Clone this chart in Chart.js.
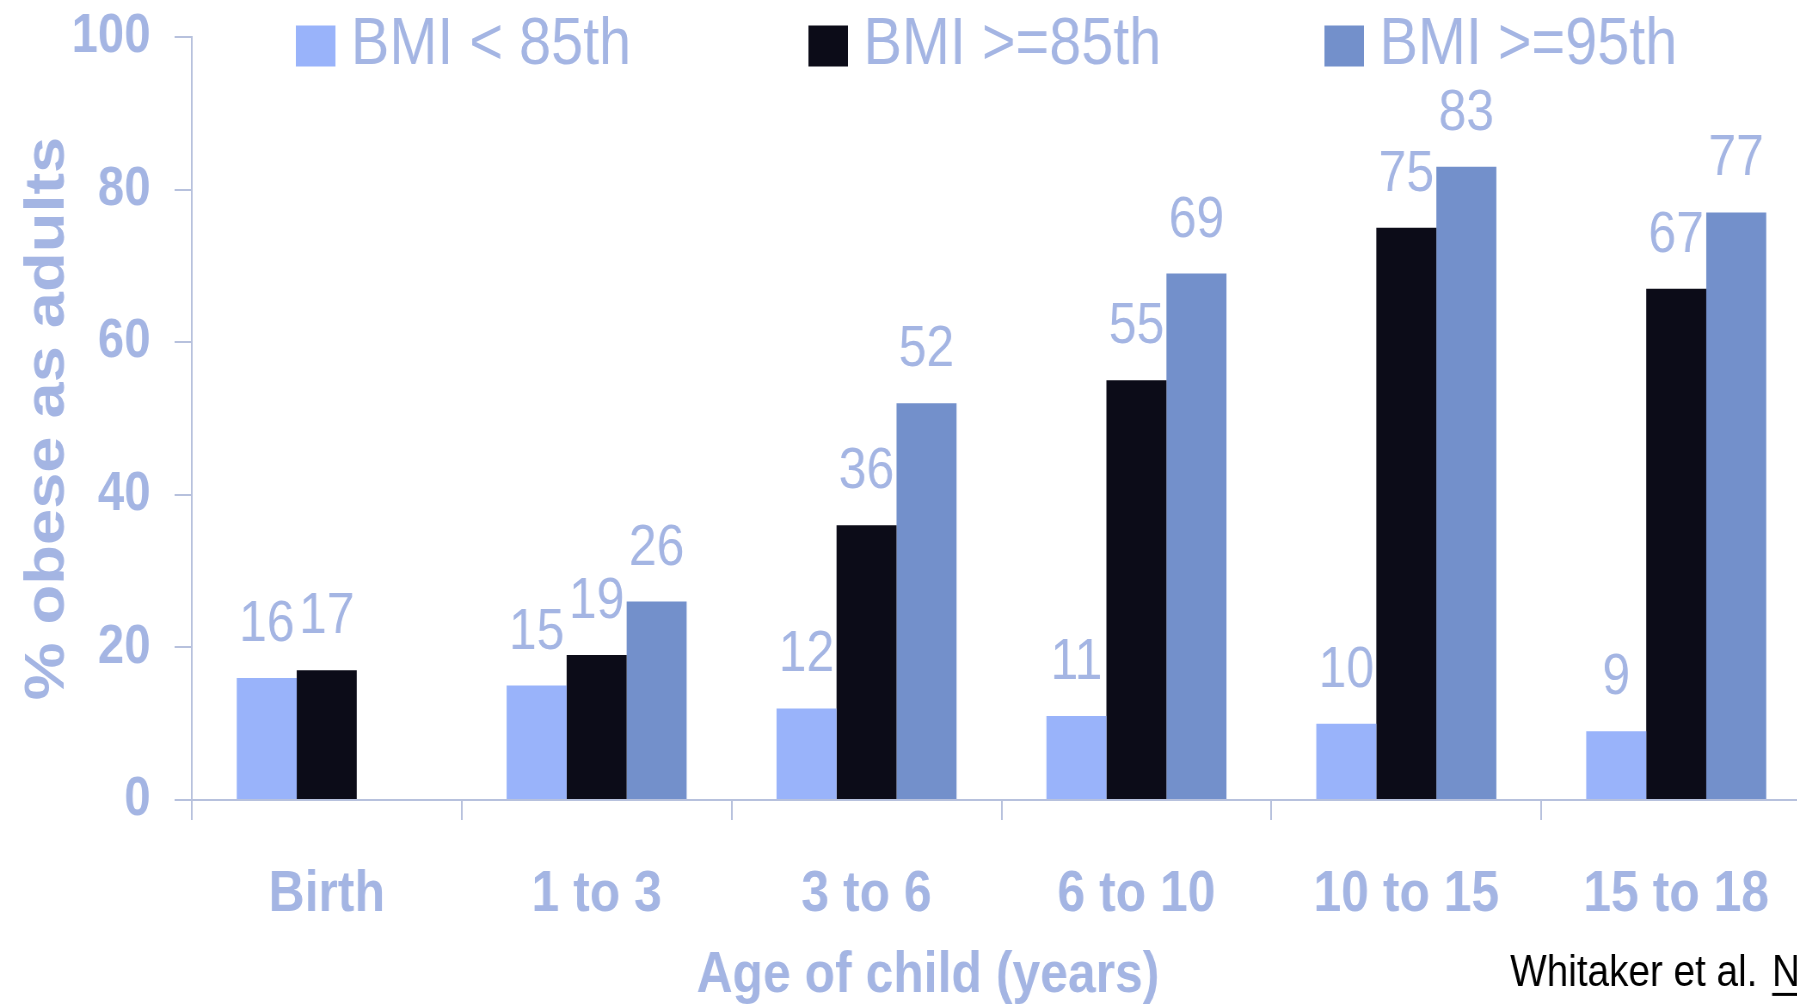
<!DOCTYPE html>
<html>
<head>
<meta charset="utf-8">
<script src="https://cdn.jsdelivr.net/npm/chart.js@4/dist/chart.umd.min.js"></script>
<style>
  html, body { margin: 0; padding: 0; background: #ffffff; overflow: hidden; width: 1797px; height: 1007px; }
  #wrap { position: absolute; left: 0; top: 0; width: 2106px; height: 1007px; transform: scaleX(0.86); transform-origin: 0 0; }
</style>
</head>
<body>
<div id="wrap"><canvas id="c"></canvas></div>
<script>
// ---- data ----
const categories = ['Birth', '1 to 3', '3 to 6', '6 to 10', '10 to 15', '15 to 18'];
const seriesNames = ['BMI < 85th', 'BMI >=85th', 'BMI >=95th'];
const bmiBelow85 = [16, 15, 12, 11, 10, 9];
const bmiAtLeast85 = [17, 19, 36, 55, 75, 67];
const bmiAtLeast95 = [null, 26, 52, 69, 83, 77];
const yTickValues = [0, 20, 40, 60, 80, 100];
const xAxisTitle = 'Age of child (years)';
const yAxisTitle = '% obese as adults';
const citationText = 'Whitaker et al.';
const citationLink = 'N';

// ---- styles ----
const FONT = '"Liberation Sans", Arial, Helvetica, sans-serif';
const TEXT = '#a4b5e3';
const AXIS = '#b7c1dd';
const seriesColors = ['#99b3fa', '#0c0c18', '#7390cb'];

const annotate = {
  id: 'annotate',
  afterDatasetsDraw(chart, args, o) {
    const ctx = chart.ctx;
    ctx.save();
    // value labels above bars
    ctx.font = 'normal ' + o.valueFont + 'px ' + FONT;
    ctx.fillStyle = TEXT;
    ctx.textAlign = 'center';
    ctx.textBaseline = 'middle';
    chart.data.datasets.forEach((ds, i) => {
      const meta = chart.getDatasetMeta(i);
      meta.data.forEach((bar, j) => {
        const v = ds.data[j];
        if (v === null || v === undefined) return;
        ctx.fillText(String(v), bar.x, bar.y - o.valueOffset);
      });
    });
    // legend
    ctx.textAlign = 'left';
    ctx.font = 'normal ' + o.legendFont + 'px ' + FONT;
    chart.data.datasets.forEach((ds, i) => {
      const x = o.legendX[i];
      ctx.fillStyle = ds.backgroundColor;
      ctx.fillRect(x, o.legendY - o.boxH / 2, o.boxW, o.boxH);
      ctx.fillStyle = TEXT;
      ctx.fillText(ds.label, x + o.boxW + o.boxGap, o.legendY);
    });
    // x axis title
    ctx.textAlign = 'center';
    ctx.font = 'bold ' + o.xTitleFont + 'px ' + FONT;
    ctx.fillStyle = TEXT;
    ctx.fillText(xAxisTitle, o.xTitleX, o.xTitleY);
    // citation
    ctx.textAlign = 'left';
    ctx.font = 'normal ' + o.citeFont + 'px ' + FONT;
    ctx.fillStyle = '#000000';
    ctx.fillText(citationText, o.citeX, o.citeY);
    const nx = o.citeX + ctx.measureText(citationText).width + o.citeGap;
    ctx.fillText(citationLink, nx, o.citeY);
    const lw = ctx.measureText(citationLink).width;
    ctx.fillRect(nx, o.citeY + o.citeFont * 0.42, lw, 3);
    ctx.restore();
  }
};

new Chart(document.getElementById('c'), {
  type: 'bar',
  data: {
    labels: categories,
    datasets: [
      { label: seriesNames[0], data: bmiBelow85, backgroundColor: seriesColors[0] },
      { label: seriesNames[1], data: bmiAtLeast85, backgroundColor: seriesColors[1] },
      { label: seriesNames[2], data: bmiAtLeast95, backgroundColor: seriesColors[2] }
    ]
  },
  options: {
    responsive: true,
    maintainAspectRatio: false,
    animation: false,
    devicePixelRatio: 1,
    layout: { padding: { top: 37, left: 0, right: 0, bottom: 0 } },
    datasets: { bar: { categoryPercentage: 0.667, barPercentage: 1.0, borderWidth: 0 } },
    plugins: {
      legend: { display: false },
      tooltip: { enabled: false },
      annotate: {
        valueFont: 58, valueOffset: 53,
        legendFont: 67, legendX: [344, 940, 1540], legendY: 46, boxW: 46, boxH: 41, boxGap: 18,
        xTitleFont: 58, xTitleX: 1079, xTitleY: 976,
        citeFont: 45, citeX: 1756, citeY: 974, citeGap: 17
      }
    },
    scales: {
      x: {
        grid: { display: true, drawOnChartArea: false, drawTicks: true, tickLength: 20, color: AXIS, lineWidth: 2, offset: true },
        border: { display: true, color: AXIS, width: 2 },
        ticks: { color: TEXT, font: { family: FONT, size: 58, weight: 'bold' }, padding: 40, maxRotation: 0, autoSkip: false },
        afterFit: s => { s.height = 207; }
      },
      y: {
        min: 0, max: 100,
        grid: { display: true, drawOnChartArea: false, drawTicks: true, tickLength: 20, color: AXIS, lineWidth: 2 },
        border: { display: true, color: AXIS, width: 2 },
        ticks: { color: TEXT, font: { family: FONT, size: 55, weight: 'bold' }, padding: 28 },
        afterBuildTicks: s => { s.ticks = yTickValues.map(v => ({ value: v })); },
        title: { display: true, text: yAxisTitle, color: TEXT, font: { family: FONT, size: 65, weight: 'bold' }, padding: { top: 17, bottom: 0 } },
        afterFit: s => { s.width = 223; s.paddingTop = 0; s.paddingBottom = 0; }
      }
    }
  },
  plugins: [annotate]
});
</script>
</body>
</html>
